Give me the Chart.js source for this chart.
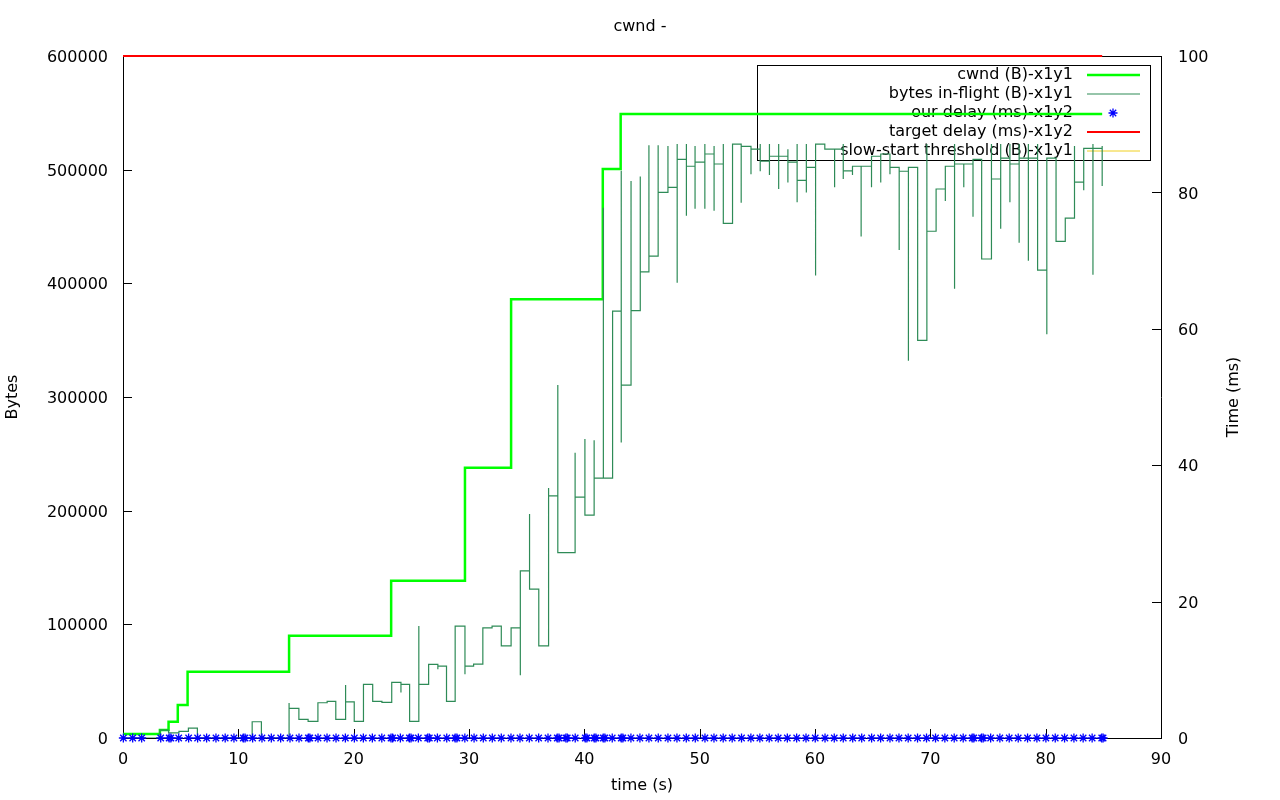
<!DOCTYPE html>
<html>
<head>
<meta charset="utf-8">
<script src="https://cdn.jsdelivr.net/npm/chart.js@4/dist/chart.umd.min.js"></script>
<style>
  html, body { margin: 0; padding: 0; background: #fff; }
  #wrap { width: 1280px; height: 800px; }
</style>
</head>
<body>
<div id="wrap"><canvas id="myCanvas" width="1280" height="800"></canvas></div>
<script>
// cwnd steps (time s -> bytes)
var cwndT = [0, 3.2, 3.95, 4.75, 5.6, 14.4, 23.25, 29.65, 33.65, 41.6, 43.15, 84.9];
var cwndB = [3500, 7000, 14300, 29000, 58300, 90000, 138400, 237800, 385900, 500500, 549000, 549000];

// bytes in flight: change time, new level, spike top / spike bottom at that time (null = none)
var flightT = [0, 3.2, 3.95, 4.85, 5.67, 6.45, 11.2, 12.0, 14.4, 15.25, 16.05, 16.9, 17.7, 18.45, 19.3, 20.05, 20.85, 21.65, 22.45, 23.3, 24.1, 24.85, 25.65, 26.5, 27.3, 28.05, 28.8, 29.65, 30.4, 31.2, 32.0, 32.8, 33.65, 34.45, 35.25, 36.05, 36.9, 37.7, 39.2, 40.05, 40.85, 41.65, 42.45, 43.2, 44.05, 44.85, 45.6, 46.4, 47.25, 48.05, 48.85, 49.6, 50.45, 51.25, 52.05, 52.85, 53.6, 54.45, 55.25, 56.05, 56.85, 57.65, 58.45, 59.25, 60.05, 60.85, 61.7, 62.45, 63.25, 64.0, 64.9, 65.7, 66.5, 67.3, 68.1, 68.9, 69.7, 70.5, 71.3, 72.1, 72.9, 73.7, 74.45, 75.3, 76.1, 76.9, 77.7, 78.5, 79.3, 80.1, 80.9, 81.7, 82.5, 83.3, 84.1, 84.9];
var flightB = [0, 7000, 4500, 5800, 8700, 0, 14300, 0, 26100, 16400, 14600, 31000, 32300, 16400, 31700, 14600, 47200, 32300, 31400, 49000, 47200, 14600, 47200, 64700, 63300, 32300, 98500, 63300, 65000, 96800, 98500, 81000, 96800, 147000, 131000, 81000, 213000, 163000, 212000, 196000, 228700, 228700, 375500, 310500, 376000, 410000, 424000, 480000, 484500, 509000, 503000, 506700, 513800, 505000, 452700, 522500, 520500, 518000, 507600, 511800, 511800, 506700, 490600, 502000, 522500, 518000, 518000, 499000, 503000, 503000, 511800, 513800, 502000, 498600, 502000, 349800, 445800, 483000, 503000, 505000, 505000, 509000, 421400, 491800, 510200, 505000, 510200, 510200, 411600, 510200, 437000, 457400, 489000, 518700, 518700, 485600];
var flightHi = [null, null, null, null, null, null, null, null, 30800, null, null, null, null, null, 46600, null, null, null, null, null, null, null, 98500, null, null, null, null, null, null, null, null, null, null, null, 197000, null, 220000, 310500, 251000, 263000, 262000, 466500, null, 499000, 490000, 494000, 521500, 521500, 520800, 522500, 522500, 520800, 522500, 520800, 522500, null, null, null, 522500, 522500, 522500, 518000, 522500, 522500, null, null, null, 522500, null, null, null, null, null, null, null, null, 522500, null, null, 522500, null, null, 478000, 522500, 522500, 522500, 522500, 522500, 522500, null, null, null, 520800, null, 522500, 520800];
var flightLo = [null, null, null, null, null, null, null, null, null, null, null, null, null, null, null, null, null, null, null, null, 40000, null, null, null, 60400, null, null, 56000, null, null, null, null, null, 55200, null, null, null, null, null, null, null, null, null, 260000, null, null, null, null, null, 400500, 459500, 465700, 465700, 463800, null, null, 471000, 496000, 498600, 495300, 483000, 488600, 471300, 480000, 407000, null, 484500, 491800, 495300, 441300, 484500, 488600, 496000, 429300, 331800, null, null, null, 472400, 395200, 484500, 458600, null, 448000, 448000, 471300, 435700, 419800, null, 355100, null, null, 482000, 482000, 407600, null];

// our delay (ms) samples
var delayT = [0.03, 0.84, 1.62, 3.27, 4.0, 4.15, 4.83, 5.69, 6.47, 7.25, 8.06, 8.86, 9.62, 10.43, 10.58, 11.24, 12.05, 12.86, 13.67, 14.48, 15.26, 16.07, 16.2, 16.91, 17.69, 18.47, 19.28, 20.06, 20.84, 21.62, 22.44, 23.24, 23.38, 24.05, 24.83, 24.97, 25.61, 26.42, 26.56, 27.26, 28.07, 28.8, 28.95, 29.64, 30.44, 31.24, 32.02, 32.8, 33.64, 34.42, 35.23, 36.04, 36.85, 37.65, 37.8, 38.4, 38.52, 39.21, 40.08, 40.22, 40.86, 41.0, 41.64, 41.78, 42.42, 43.2, 43.34, 44.04, 44.82, 45.6, 46.41, 47.25, 48.03, 48.84, 49.62, 50.46, 51.24, 52.04, 52.82, 53.63, 54.44, 55.22, 56.03, 56.81, 57.6, 58.41, 59.22, 60.02, 60.87, 61.67, 62.45, 63.27, 64.05, 64.91, 65.69, 66.5, 67.28, 68.08, 68.89, 69.67, 70.45, 71.26, 72.07, 72.85, 73.63, 73.77, 74.44, 74.58, 75.23, 76.03, 76.84, 77.62, 78.43, 79.24, 80.02, 80.83, 81.64, 82.45, 83.25, 84.03, 84.86, 84.98];
var delayMs = [0, 0, 0, 0, 0, 0, 0, 0, 0, 0, 0, 0, 0, 0, 0, 0, 0, 0, 0, 0, 0, 0, 0, 0, 0, 0, 0, 0, 0, 0, 0, 0, 0, 0, 0, 0, 0, 0, 0, 0, 0, 0, 0, 0, 0, 0, 0, 0, 0, 0, 0, 0, 0, 0, 0, 0, 0, 0, 0, 0, 0, 0, 0, 0, 0, 0, 0, 0, 0, 0, 0, 0, 0, 0, 0, 0, 0, 0, 0, 0, 0, 0, 0, 0, 0, 0, 0, 0, 0, 0, 0, 0, 0, 0, 0, 0, 0, 0, 0, 0, 0, 0, 0, 0, 0, 0, 0, 0, 0, 0, 0, 0, 0, 0, 0, 0, 0, 0, 0, 0, 0, 0];

// target delay (ms)
var targetT = [0, 84.9];
var targetMs = [100, 100];

var xTicks = [0, 10, 20, 30, 40, 50, 60, 70, 80, 90];
var yTicks = [0, 100000, 200000, 300000, 400000, 500000, 600000];
var y2Ticks = [0, 20, 40, 60, 80, 100];

var labels = ["cwnd (B)-x1y1", "bytes in-flight (B)-x1y1", "our delay (ms)-x1y2", "target delay (ms)-x1y2", "slow-start threshold (B)-x1y1"];
var FONT = "'DejaVu Sans', sans-serif";

// build the point lists
var cwndPts = cwndT.map(function(t, i){ return {x: t, y: cwndB[i]}; });
var flightPts = [];
var prev = 0;
for (var i = 0; i < flightT.length; i++) {
    var t = flightT[i];
    flightPts.push({x: t, y: prev});
    if (flightHi[i] != null) flightPts.push({x: t, y: flightHi[i]});
    if (flightLo[i] != null) flightPts.push({x: t, y: flightLo[i]});
    flightPts.push({x: t, y: flightB[i]});
    prev = flightB[i];
}
var delayPts = delayT.map(function(t, i){ return {x: t, y: delayMs[i]}; });
var targetPts = targetT.map(function(t, i){ return {x: t, y: targetMs[i]}; });

// gnuplot-ish frame: inward ticks, top border, boxed key
var frame = {
    id: 'frame',
    beforeDatasetsDraw: function(chart) {
        var ctx = chart.ctx, a = chart.chartArea;
        ctx.save();
        ctx.strokeStyle = '#000';
        ctx.lineWidth = 1;
        ctx.beginPath();
        ctx.moveTo(a.left, a.top + 0.5); ctx.lineTo(a.right, a.top + 0.5);
        var sx = chart.scales.x, sy = chart.scales.y, sy2 = chart.scales.y2;
        xTicks.forEach(function(v){
            var p = Math.round(sx.getPixelForValue(v)) + 0.5;
            ctx.moveTo(p, a.bottom); ctx.lineTo(p, a.bottom - 9);
        });
        yTicks.forEach(function(v){
            var p = Math.round(sy.getPixelForValue(v)) + 0.5;
            ctx.moveTo(a.left, p); ctx.lineTo(a.left + 9, p);
        });
        y2Ticks.forEach(function(v){
            var p = Math.round(sy2.getPixelForValue(v)) + 0.5;
            ctx.moveTo(a.right, p); ctx.lineTo(a.right - 9, p);
        });
        ctx.stroke();

        // right axis title, reads bottom to top like gnuplot
        ctx.font = '16px ' + FONT;
        ctx.fillStyle = '#000';
        ctx.save();
        ctx.translate(1234, (a.top + a.bottom) / 2);
        ctx.rotate(-Math.PI / 2);
        ctx.textAlign = 'center';
        ctx.textBaseline = 'middle';
        ctx.fillText('Time (ms)', 0, 0);
        ctx.restore();

        // key box
        var bx = 757.5, by = 65.5, bw = 393, bh = 95;
        ctx.strokeRect(bx, by, bw, bh);
        ctx.textAlign = 'right';
        ctx.textBaseline = 'middle';
        var order = [3, 2, 1, 0, 4];
        var ds = chart.data.datasets;
        for (var k = 0; k < labels.length; k++) {
            var yy = 75 + k * 19;
            ctx.fillText(labels[k], 1073, yy);
            var d = ds[order[k]];
            if (d.showLine === false) {
                ctx.strokeStyle = d.borderColor;
                ctx.lineWidth = 1.3;
                var cx = 1113, r = 4.5, q = 3.2;
                ctx.beginPath();
                ctx.moveTo(cx - r, yy); ctx.lineTo(cx + r, yy);
                ctx.moveTo(cx, yy - r); ctx.lineTo(cx, yy + r);
                ctx.moveTo(cx - q, yy - q); ctx.lineTo(cx + q, yy + q);
                ctx.moveTo(cx - q, yy + q); ctx.lineTo(cx + q, yy - q);
                ctx.stroke();
            } else {
                ctx.strokeStyle = d.borderColor;
                ctx.lineWidth = d.borderWidth;
                ctx.beginPath();
                ctx.moveTo(1087, yy); ctx.lineTo(1140, yy);
                ctx.stroke();
            }
        }
        ctx.restore();
    }
};

var myCanvas = document.getElementById("myCanvas").getContext("2d");
var chart = new Chart(myCanvas, {
    type: 'scatter',
    data: {
        datasets: [{
            label: labels[3],
            data: targetPts,
            yAxisID: 'y2',
            showLine: true,
            borderColor: '#ff0000',
            borderWidth: 2,
            pointRadius: 0,
            clip: false
        }, {
            label: labels[2],
            data: delayPts,
            yAxisID: 'y2',
            showLine: false,
            pointStyle: 'star',
            pointRadius: 4.5,
            borderWidth: 1.3,
            borderColor: '#0000ff',
            backgroundColor: '#0000ff',
            clip: false
        }, {
            label: labels[1],
            data: flightPts,
            yAxisID: 'y',
            showLine: true,
            borderColor: '#2e8b57',
            borderWidth: 1.2,
            pointRadius: 0
        }, {
            label: labels[0],
            data: cwndPts,
            yAxisID: 'y',
            showLine: true,
            stepped: true,
            borderColor: '#00ff00',
            borderWidth: 2.5,
            pointRadius: 0
        }, {
            label: labels[4],
            data: [],
            yAxisID: 'y',
            showLine: true,
            borderColor: '#f0d020',
            borderWidth: 1,
            pointRadius: 0
        }]
    },
    options: {
        responsive: false,
        animation: false,
        events: [],
        layout: { padding: 0 },
        plugins: {
            legend: { display: false },
            tooltip: { enabled: false },
            title: {
                display: true,
                text: 'cwnd -',
                color: '#000',
                font: { family: FONT, size: 16, weight: 'normal' },
                padding: { top: 17, bottom: 19.8 }
            }
        },
        scales: {
            x: {
                type: 'linear',
                min: 0, max: 90,
                afterFit: function(s){ s.height = 62; },
                afterBuildTicks: function(s){ s.ticks = xTicks.map(function(v){ return {value: v}; }); },
                grid: { display: false },
                border: { display: true, color: '#000', width: 1 },
                ticks: { color: '#000', padding: 4, maxRotation: 0, font: { family: FONT, size: 16 } },
                title: { display: true, text: 'time (s)', color: '#000', padding: { top: 0, bottom: 5 }, font: { family: FONT, size: 16 } }
            },
            y: {
                type: 'linear',
                position: 'left',
                min: 0, max: 600000,
                afterFit: function(s){ s.width = 123; },
                afterBuildTicks: function(s){ s.ticks = yTicks.map(function(v){ return {value: v}; }); },
                grid: { display: false },
                border: { display: true, color: '#000', width: 1 },
                ticks: { color: '#000', padding: 7, labelOffset: 2, font: { family: FONT, size: 16 },
                         callback: function(v){ return String(v); } },
                title: { display: true, text: 'Bytes', color: '#000', padding: { top: 3, bottom: 0 }, font: { family: FONT, size: 16 } }
            },
            y2: {
                type: 'linear',
                position: 'right',
                min: 0, max: 100,
                afterFit: function(s){ s.width = 119; },
                afterBuildTicks: function(s){ s.ticks = y2Ticks.map(function(v){ return {value: v}; }); },
                grid: { display: false },
                border: { display: true, color: '#000', width: 1 },
                ticks: { color: '#000', padding: 9, labelOffset: 2, font: { family: FONT, size: 16 },
                         callback: function(v){ return String(v); } },
                title: { display: false }
            }
        }
    },
    plugins: [frame]
});
</script>
</body>
</html>
